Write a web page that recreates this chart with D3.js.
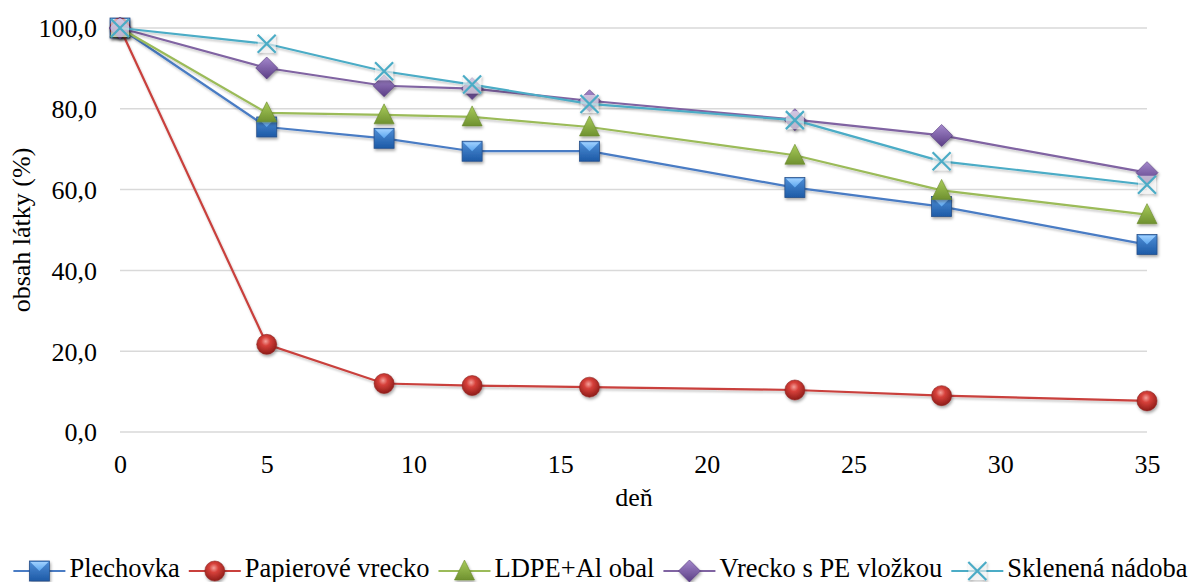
<!DOCTYPE html>
<html>
<head>
<meta charset="utf-8">
<script src="https://cdn.jsdelivr.net/npm/d3@7/dist/d3.min.js"></script>
<style>
  body { margin: 0; background: #fff; }
  svg { display: block; }
  text { font-family: "Liberation Serif", "DejaVu Serif", serif; fill: #000; }
</style>
</head>
<body>
<svg id="chart" width="1193" height="582"></svg>
<script>
// Storage days
const days = [0, 5, 9, 12, 16, 23, 28, 35];

// Remaining content (%) for each packaging type
const plechovka = [100, 75.5, 72.7, 69.5, 69.5, 60.5, 55.8, 46.4];
const papierove = [100, 21.7, 12.0, 11.5, 11.1, 10.4, 9.0, 7.7];
const ldpeAl    = [100, 79.0, 78.5, 78.0, 75.5, 68.5, 59.8, 53.8];
const vreckoPE  = [100, 90.1, 85.7, 85.0, 82.0, 77.3, 73.4, 64.2];
const sklenena  = [100, 96.1, 89.3, 86.0, 81.2, 77.2, 67.0, 61.2];

const seriesNames = ["Plechovka", "Papierové vrecko", "LDPE+Al obal", "Vrecko s PE vložkou", "Sklenená nádoba"];
const yTicks = [0, 20, 40, 60, 80, 100];
const xTicks = [0, 5, 10, 15, 20, 25, 30, 35];

const series = [
  { name: seriesNames[0], values: plechovka, color: "#4a7cc4", marker: "square" },
  { name: seriesNames[1], values: papierove, color: "#c9403c", marker: "circle" },
  { name: seriesNames[2], values: ldpeAl,    color: "#9bbb59", marker: "triangle" },
  { name: seriesNames[3], values: vreckoPE,  color: "#8064a2", marker: "diamond" },
  { name: seriesNames[4], values: sklenena,  color: "#4bacc6", marker: "cross" }
];

const FONT = "Liberation Serif";
const FS = "26px";

const svg = d3.select("#chart");
const x = d3.scaleLinear().domain([0, 35]).range([120, 1147]);
const y = d3.scaleLinear().domain([0, 100]).range([432, 28]);
const fmt = v => d3.format(".1f")(v).replace(".", ",");

// ---- definitions: gradients & shadow ----
const defs = svg.append("defs");
const shadow = defs.append("filter").attr("id", "shadow")
  .attr("x", "-50%").attr("y", "-50%").attr("width", "200%").attr("height", "200%");
shadow.append("feDropShadow").attr("dx", 1).attr("dy", 2).attr("stdDeviation", 1.6)
  .attr("flood-color", "#000").attr("flood-opacity", 0.35);
const lineShadow = defs.append("filter").attr("id", "lineShadow")
  .attr("x", "-5%").attr("y", "-5%").attr("width", "110%").attr("height", "110%");
lineShadow.append("feDropShadow").attr("dx", 1).attr("dy", 2).attr("stdDeviation", 1.2)
  .attr("flood-color", "#000").attr("flood-opacity", 0.22);

function linGrad(id, stops) {
  const g = defs.append("linearGradient").attr("id", id)
    .attr("x1", 0).attr("y1", 0).attr("x2", 0).attr("y2", 1);
  stops.forEach(s => g.append("stop").attr("offset", s[0]).attr("stop-color", s[1]));
}
linGrad("gSquare", [[0, "#4f8fd8"], [1, "#1d5aa6"]]);
linGrad("gSquareTop", [[0, "#9fd0ff"], [1, "#5aa5ee"]]);
linGrad("gTri", [[0, "#a9cc5a"], [1, "#6f9130"]]);
linGrad("gDia", [[0, "#a488cc"], [1, "#5b3e85"]]);
const rg = defs.append("radialGradient").attr("id", "gCircle")
  .attr("cx", "45%").attr("cy", "35%").attr("r", "65%");
rg.append("stop").attr("offset", 0).attr("stop-color", "#f4a09a");
rg.append("stop").attr("offset", 0.35).attr("stop-color", "#d6403a");
rg.append("stop").attr("offset", 1).attr("stop-color", "#8e1c18");

// ---- marker drawing ----
function drawMarker(g, type, cx, cy, color) {
  const m = g.append("g").attr("transform", `translate(${cx},${cy})`).attr("filter", "url(#shadow)");
  if (type === "square") {
    m.append("rect").attr("x", -10).attr("y", -10).attr("width", 20).attr("height", 20)
      .attr("fill", "url(#gSquare)").attr("stroke", "#27508a").attr("stroke-width", 0.8);
    m.append("path").attr("d", "M-9,-9L9,-9L0,0Z").attr("fill", "url(#gSquareTop)");
  } else if (type === "circle") {
    m.append("circle").attr("r", 10).attr("fill", "url(#gCircle)")
      .attr("stroke", "#8e2420").attr("stroke-width", 0.6);
  } else if (type === "triangle") {
    m.append("path").attr("d", "M0,-11L10,9L-10,9Z").attr("fill", "url(#gTri)")
      .attr("stroke", "#6a8a2c").attr("stroke-width", 0.6);
  } else if (type === "diamond") {
    m.append("path").attr("d", "M0,-11L11,0L0,11L-11,0Z").attr("fill", "url(#gDia)")
      .attr("stroke", "#54397c").attr("stroke-width", 0.6);
  } else if (type === "cross") {
    m.append("rect").attr("x", -9).attr("y", -9).attr("width", 18).attr("height", 18)
      .attr("fill", "#ffffff").attr("opacity", 0.55);
    m.append("path").attr("d", "M-9,-9L9,9M9,-9L-9,9").attr("stroke", color)
      .attr("stroke-width", 2.2).attr("fill", "none");
  }
}

// ---- gridlines ----
svg.append("g").selectAll("line").data(yTicks).join("line")
  .attr("x1", x(0)).attr("x2", x(35))
  .attr("y1", d => y(d)).attr("y2", d => y(d))
  .attr("stroke", "#d9d9d9").attr("stroke-width", 1.5);

// ---- axes (labels only, no domain lines) ----
const yAxis = svg.append("g").attr("transform", `translate(${x(0)},0)`)
  .call(d3.axisLeft(y).tickValues(yTicks).tickFormat(fmt).tickSize(0).tickPadding(23));
yAxis.attr("font-family", FONT);
yAxis.select(".domain").remove();
yAxis.selectAll("text").style("font-family", FONT).style("font-size", FS).attr("dy", "0.34em");

const xAxis = svg.append("g").attr("transform", `translate(0,${y(0)})`)
  .call(d3.axisBottom(x).tickValues(xTicks).tickFormat(d3.format("d")).tickSize(0).tickPadding(23));
xAxis.attr("font-family", FONT);
xAxis.select(".domain").remove();
xAxis.selectAll("text").style("font-family", FONT).style("font-size", FS);

// axis titles
svg.append("text").attr("x", 634).attr("y", 506).attr("text-anchor", "middle")
  .style("font-family", FONT).style("font-size", FS).text("deň");
svg.append("text").attr("transform", "translate(30,230) rotate(-90)").attr("text-anchor", "middle")
  .style("font-family", FONT).style("font-size", FS).text("obsah látky (%)");

// ---- series ----
const line = d3.line().x(d => x(d[0])).y(d => y(d[1]));
series.forEach(s => {
  const pts = days.map((d, i) => [d, s.values[i]]);
  const g = svg.append("g");
  g.append("path").datum(pts).attr("d", line).attr("fill", "none")
    .attr("stroke", s.color).attr("stroke-width", 2.2).attr("filter", "url(#lineShadow)");
  pts.forEach(p => drawMarker(g, s.marker, x(p[0]), y(p[1]), s.color));
});

// ---- legend ----
const legend = svg.append("g");
const lineLen = 52, textGap = 4, itemGap = 9, legY = 571, textBase = 577;
const items = series.map(s => {
  const t = legend.append("text").attr("y", textBase)
    .style("font-family", FONT).style("font-size", "26.5px").text(s.name);
  const w = t.node().getComputedTextLength();
  return { s, t, w };
});
const total = items.reduce((a, it) => a + lineLen + textGap + it.w, 0) + itemGap * (items.length - 1);
let cursor = Math.max(2, (1193 - total) / 2 + 4);
items.forEach(it => {
  legend.append("line").attr("x1", cursor).attr("x2", cursor + lineLen)
    .attr("y1", legY).attr("y2", legY).attr("stroke", it.s.color).attr("stroke-width", 2.2);
  drawMarker(legend, it.s.marker, cursor + lineLen / 2, legY, it.s.color);
  it.t.attr("x", cursor + lineLen + textGap);
  cursor += lineLen + textGap + it.w + itemGap;
});
</script>
</body>
</html>
